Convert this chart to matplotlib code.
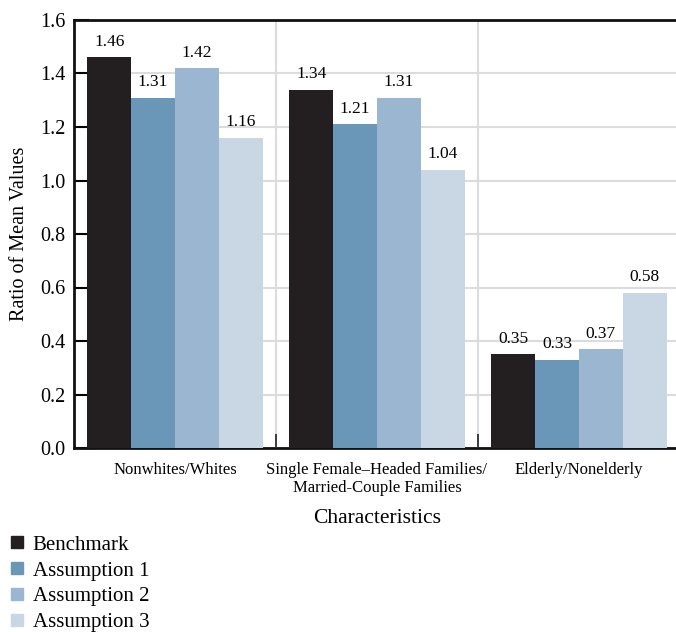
import numpy as np
import matplotlib.pyplot as plt
from matplotlib.lines import Line2D

plt.rcParams['font.family'] = ['Liberation Serif', 'DejaVu Serif']

groups = ['Nonwhites/Whites',
          'Single Female\u2013Headed Families/\nMarried-Couple Families',
          'Elderly/Nonelderly']
series = ['Benchmark', 'Assumption 1', 'Assumption 2', 'Assumption 3']
benchmark = [1.46, 1.34, 0.35]
assumption1 = [1.31, 1.21, 0.33]
assumption2 = [1.42, 1.31, 0.37]
assumption3 = [1.16, 1.04, 0.58]
colors = ['#231f20', '#6a97b7', '#9bb6d0', '#c9d7e4']

values = [benchmark, assumption1, assumption2, assumption3]

fig = plt.figure(figsize=(6.76, 6.32), dpi=100)
ax = fig.add_axes([74 / 676, 1 - 448 / 632, 606 / 676, 428 / 632])

x = np.arange(len(groups))
w = 0.217
for i, (vals, col) in enumerate(zip(values, colors)):
    pos = x + (i - 1.5) * w
    ax.bar(pos, vals, width=w, color=col, zorder=3)
    for p, v in zip(pos, vals):
        ax.text(p, v + 0.028, f'{v:.2f}', ha='center', va='bottom', fontsize=12.5, zorder=4)

ax.set_xlim(-0.5, 2.5)
ax.set_ylim(0, 1.6)
ax.set_yticks(np.arange(0, 1.61, 0.2))
ax.set_yticklabels([f'{t:.1f}' for t in np.arange(0, 1.61, 0.2)], fontsize=14.5)
ax.set_xticks(x)
ax.set_xticklabels(groups, fontsize=12)
ax.set_xticks([0.5, 1.5], minor=True)
ax.tick_params(axis='x', which='major', length=0, pad=10)
ax.tick_params(axis='x', which='minor', direction='in', length=10, width=1.2, color='#231f20')
ax.tick_params(axis='y', direction='in', length=11, width=1.5, pad=6)

# light grid: horizontal at y ticks, vertical between the groups
ax.grid(axis='y', color='#dcdcdc', linewidth=1.5, zorder=0)
for b in [0.5, 1.5]:
    ax.axvline(b, color='#dcdcdc', linewidth=1.5, zorder=0)

for s in ['left', 'top', 'bottom']:
    ax.spines[s].set_linewidth(2)
    ax.spines[s].set_color('#111111')
ax.spines['right'].set_visible(False)

ax.set_ylabel('Ratio of Mean Values', fontsize=14.5, labelpad=8)
ax.set_xlabel('Characteristics', fontsize=15.5, labelpad=9)

handles = [Line2D([], [], marker='s', linestyle='none', markersize=8, color=c) for c in colors]
fig.legend(handles, series, loc='upper left', bbox_to_anchor=(0.005, 1 - 531 / 632),
           frameon=False, fontsize=15, handletextpad=0.3, labelspacing=0.3,
           borderaxespad=0, handlelength=0.9, borderpad=0.2)

fig.savefig('out.png', dpi=100)
